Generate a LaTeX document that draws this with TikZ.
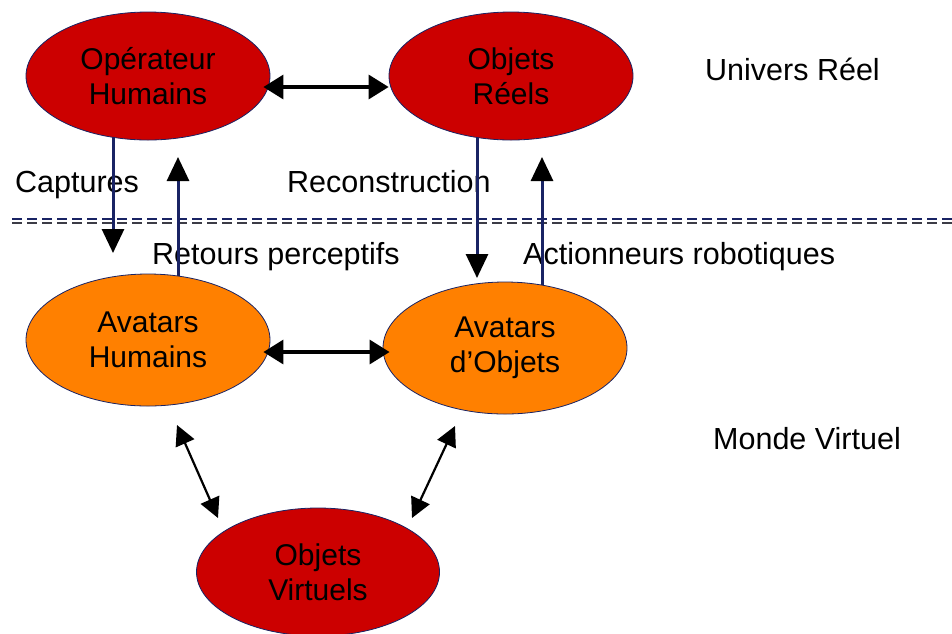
\documentclass[tikz,border=0pt]{standalone}
\usepackage{fontspec}
\setmainfont{Liberation Sans}
\usetikzlibrary{arrows.meta,shapes.geometric,calc}
\pgfdeclarelayer{background}
\pgfsetlayers{background,main}
\definecolor{redfill}{RGB}{204,0,0}
\definecolor{orangefill}{RGB}{255,128,0}
\definecolor{navyline}{RGB}{25,35,100}
\definecolor{dashgray}{RGB}{60,60,70}
\begin{document}
\begin{tikzpicture}[x=1pt,y=-1pt,
  bubble/.style={ellipse, draw=navyline, line width=0.8pt, inner sep=0pt, align=center,
    font=\fontsize{30}{35}\selectfont, text=black},
  redbubble/.style={bubble, fill=redfill},
  orangebubble/.style={bubble, fill=orangefill},
  lbl/.style={anchor=base west, inner sep=0pt, font=\fontsize{30.5}{35}\selectfont},
  varrow/.style={draw=navyline, line width=3pt, -{Triangle[length=24pt,width=22pt,color=black]}},
  harrow/.style={draw=black, line width=3.3pt, {Triangle[length=20pt,width=24pt]}-{Triangle[length=20pt,width=24pt]}},
  darrow/.style={draw=black, line width=2.2pt, {Triangle[length=20pt,width=20pt]}-{Triangle[length=20pt,width=20pt]}},
  sepline/.style={line width=1.4pt, dash pattern=on 10pt off 5pt}]
\useasboundingbox (0,0) rectangle (952,633);

\node[redbubble, minimum width=244pt, minimum height=128pt] (op) at (148,76) {Opérateur\\Humains};
\node[redbubble, minimum width=244pt, minimum height=128pt] (obr) at (511,76) {Objets\\Réels};
\node[orangebubble, minimum width=244pt, minimum height=132pt] (ah) at (148,340) {Avatars\\Humains};
\node[orangebubble, minimum width=244pt, minimum height=132pt] (ao) at (505,348) {Avatars\\d’Objets};
\node[redbubble, minimum width=243pt, minimum height=128pt] (ov) at (318,572) {Objets\\Virtuels};

\begin{pgfonlayer}{background}
  \draw[sepline, navyline] (12,219) -- (952,219);
  \draw[sepline, dashgray] (12,223) -- (952,223);
  \node[lbl] (ur) at (705,80) {Univers Réel};
  \node[lbl] (mv) at (713,449) {Monde Virtuel};
  \node[lbl] (cap) at (15,192) {Captures};
  \node[lbl] (rec) at (287,192) {Reconstruction};
  \node[lbl] (ret) at (152,264) {Retours perceptifs};
  \node[lbl] (act) at (523,264) {Actionneurs robotiques};
  \coordinate (capTip) at (113,253);
  \coordinate (retTip) at (178,157);
  \coordinate (recTip) at (477,278);
  \coordinate (actTip) at (542,157);
  \draw[varrow] (capTip |- op.center) -- (capTip);
  \draw[varrow] (retTip |- ah.center) -- (retTip);
  \draw[varrow] (recTip |- obr.center) -- (recTip);
  \draw[varrow] (actTip |- ao.center) -- (actTip);
\end{pgfonlayer}

\draw[harrow] ([xshift=-7pt,yshift=-11pt]op.east) -- ([yshift=-11pt]obr.west);
\draw[harrow] ([xshift=-7pt,yshift=-12pt]ah.east) -- ([xshift=7pt,yshift=-4pt]ao.west);

\coordinate (ahOut) at (177,425);
\coordinate (ovInL) at (218,518);
\coordinate (aoOut) at (455,426);
\coordinate (ovInR) at (412,518);
\draw[darrow] (ahOut) -- (ovInL);
\draw[darrow] (aoOut) -- (ovInR);
\end{tikzpicture}
\end{document}
